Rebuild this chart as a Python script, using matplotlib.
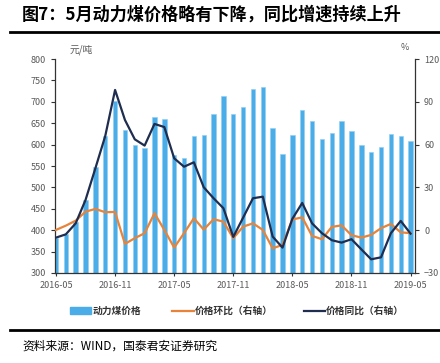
import matplotlib
matplotlib.use("Agg")
import matplotlib.pyplot as plt
import numpy as np
from matplotlib.lines import Line2D
from matplotlib.patches import Patch

plt.rcParams["font.family"] = ["Noto Sans CJK SC", "DejaVu Sans"]

# monthly, 2016-05 .. 2019-05
months = [f"{y}-{m:02d}" for y in range(2016, 2020) for m in range(1, 13)][4:41]
price = [382, 390, 418, 470, 548, 620, 703, 635, 598, 591, 664, 660, 576,
         568, 620, 622, 672, 714, 672, 689, 730, 734, 639, 578, 622, 680,
         655, 612, 627, 654, 632, 599, 583, 594, 624, 619, 608]
mom = [0.2, 3.2, 6.7, 13.0, 14.9, 12.6, 12.8, -9.6, -5.6, -2.1, 11.9, 0.2, -12.2,
       -2.1, 8.4, 0.4, 7.7, 6.0, -5.6, 2.5, 4.8, 0.2, -12.7, -10.3, 7.5, 9.0,
       -4.0, -6.3, 2.3, 3.4, -3.5, -5.2, -3.3, 1.4, 4.4, -1.5, -2.1]
yoy = [-5.2, -2.9, 4.8, 21.2, 43.4, 66.0, 98.3, 77.3, 63.7, 59.3, 74.5, 72.3, 50.4,
       44.5, 47.6, 30.1, 22.4, 15.4, -4.7, 8.8, 22.4, 23.5, -4.5, -12.2, 8.0, 19.1,
       4.8, -2.1, -7.0, -8.7, -6.3, -13.4, -20.4, -19.0, -2.1, 6.5, -2.4]

BAR = "#4AADE8"
ORANGE = "#E8833A"
NAVY = "#1F2D4F"
GREY = "#595959"

fig = plt.figure(figsize=(4.4, 3.63), dpi=100)
W, H = 440, 363
ax = fig.add_axes([55 / W, 1 - 273 / H, 360 / W, 214 / H])
x = np.arange(len(months))
ax.bar(x, price, width=0.45, color=BAR, edgecolor="#8CCDF2", linewidth=0.4, zorder=2)
ax.set_ylim(300, 800)
ax.set_yticks(range(300, 801, 50))
ax.set_xlim(-0.1, 36.45)
ax.set_xticks(x[::6])
ax.set_xticklabels(months[::6])

ax2 = ax.twinx()
ax2.plot(x, mom, color=ORANGE, lw=1.6, zorder=3)
ax2.plot(x, yoy, color=NAVY, lw=1.6, zorder=4)
ax2.set_ylim(-30, 120)
ax2.set_yticks(range(-30, 121, 30))

for a in (ax, ax2):
    for s in a.spines.values():
        s.set_visible(False)
    a.tick_params(labelsize=6.5, labelcolor=GREY, length=3, width=0.8, color="#333333")
ax.spines["left"].set_visible(True)
ax.spines["bottom"].set_visible(True)
ax2.spines["right"].set_visible(True)
for s in (ax.spines["left"], ax.spines["bottom"], ax2.spines["right"]):
    s.set_color("#333333")
    s.set_linewidth(0.9)
ax.tick_params(axis="x", direction="inout", length=5, pad=3)

fig.text(70 / W, 1 - 50 / H, "元/吨", fontsize=7, color=GREY, ha="left", va="center")
fig.text(405 / W, 1 - 48 / H, "%", fontsize=6.5, color=GREY, ha="center", va="center")

fig.text(22 / W, 1 - 15 / H, "图7：5月动力煤价格略有下降，同比增速持续上升",
         fontsize=12.3, fontweight="bold", ha="left", va="center")
fig.add_artist(Line2D([10 / W, 1], [1 - 32 / H] * 2, color="black", lw=2))
fig.add_artist(Line2D([10 / W, 1], [1 - 330 / H] * 2, color="black", lw=2))
fig.text(22 / W, 1 - 346 / H, "资料来源：WIND，国泰君安证券研究", fontsize=8.5,
         ha="left", va="center")

handles = [Patch(color=BAR), Line2D([], [], color=ORANGE, lw=1.6),
           Line2D([], [], color=NAVY, lw=1.6)]
labels = ["动力煤价格", "价格环比（右轴）", "价格同比（右轴）"]
leg = fig.legend(handles, labels, loc="center", bbox_to_anchor=(237 / W, 1 - 311 / H),
                 ncol=3, frameon=False, fontsize=7, handlelength=2.2, handleheight=0.6,
                 handletextpad=0.1, columnspacing=3.2)
for t in leg.get_texts():
    t.set_fontweight("bold")
    t.set_color("#333333")

fig.savefig("out.png", dpi=100)
